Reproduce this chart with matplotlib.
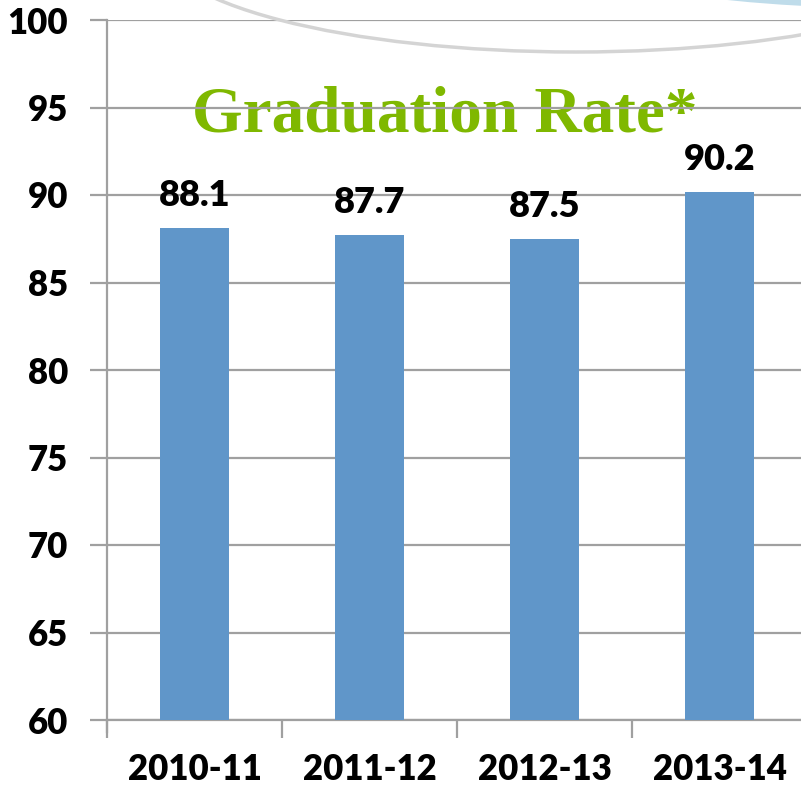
import matplotlib
matplotlib.use("Agg")
import matplotlib.pyplot as plt
from matplotlib.patches import Ellipse

# Données du graphique
annees = ["2010-11", "2011-12", "2012-13", "2013-14"]
taux = [88.1, 87.7, 87.5, 90.2]
graduations_y = [60, 65, 70, 75, 80, 85, 90, 95, 100]
titre = "Graduation Rate*"

bleu = "#6096C9"
vert = "#7FB800"
gris = "#A0A0A0"

fig = plt.figure(figsize=(8.01, 7.9), dpi=100)
ax = fig.add_axes([107 / 801, 70 / 790, 700 / 801, 700 / 790])

# décor courbe en haut
fig.patches.append(Ellipse((576 / 801, 1 + 58 / 790), 840 / 801, 220 / 790,
                           transform=fig.transFigure, fill=False,
                           edgecolor="#D4D4D4", lw=2.5, zorder=0))
fig.patches.append(Ellipse((900 / 801, 1 + 60 / 790), 700 / 801, 130 / 790,
                           transform=fig.transFigure, fill=False,
                           edgecolor="#BFDCEA", lw=5, zorder=0))

x = list(range(len(annees)))
ax.bar(x, taux, width=0.39, color=bleu, zorder=3)

for xi, v in zip(x, taux):
    ax.text(xi, v + 0.9, f"{v}", ha="center", va="bottom",
            fontsize=26, fontweight="heavy", family="Lato", zorder=4)

ax.text(1.43, 93.6, titre, ha="center", va="baseline", color=vert,
        fontsize=47, fontweight="bold", family="Liberation Serif", zorder=1)

ax.set_xlim(-0.5, 3.5)
ax.set_ylim(60, 100)
ax.set_yticks(graduations_y)
ax.set_yticklabels([str(g) for g in graduations_y])
ax.yaxis.grid(True, color=gris, lw=1.6, zorder=2)
ax.set_axisbelow(False)

ax.set_xticks(x)
ax.set_xticklabels(annees)
ax.set_xticks([-0.5, 0.5, 1.5, 2.5], minor=True)
ax.tick_params(axis="x", which="major", length=0, pad=24)
ax.tick_params(axis="x", which="minor", length=13, width=1.6, color=gris)
ax.tick_params(axis="y", length=12, width=1.6, color=gris, pad=16)

for lab in ax.get_xticklabels() + ax.get_yticklabels():
    lab.set_family("Lato")
    lab.set_fontweight("heavy")
    lab.set_fontsize(25)

for s in ["top", "right"]:
    ax.spines[s].set_visible(False)
for s in ["left", "bottom"]:
    ax.spines[s].set_color(gris)
    ax.spines[s].set_linewidth(1.6)
ax.spines["left"].set_bounds(59.3, 100)

plt.savefig("out.png", dpi=100)
